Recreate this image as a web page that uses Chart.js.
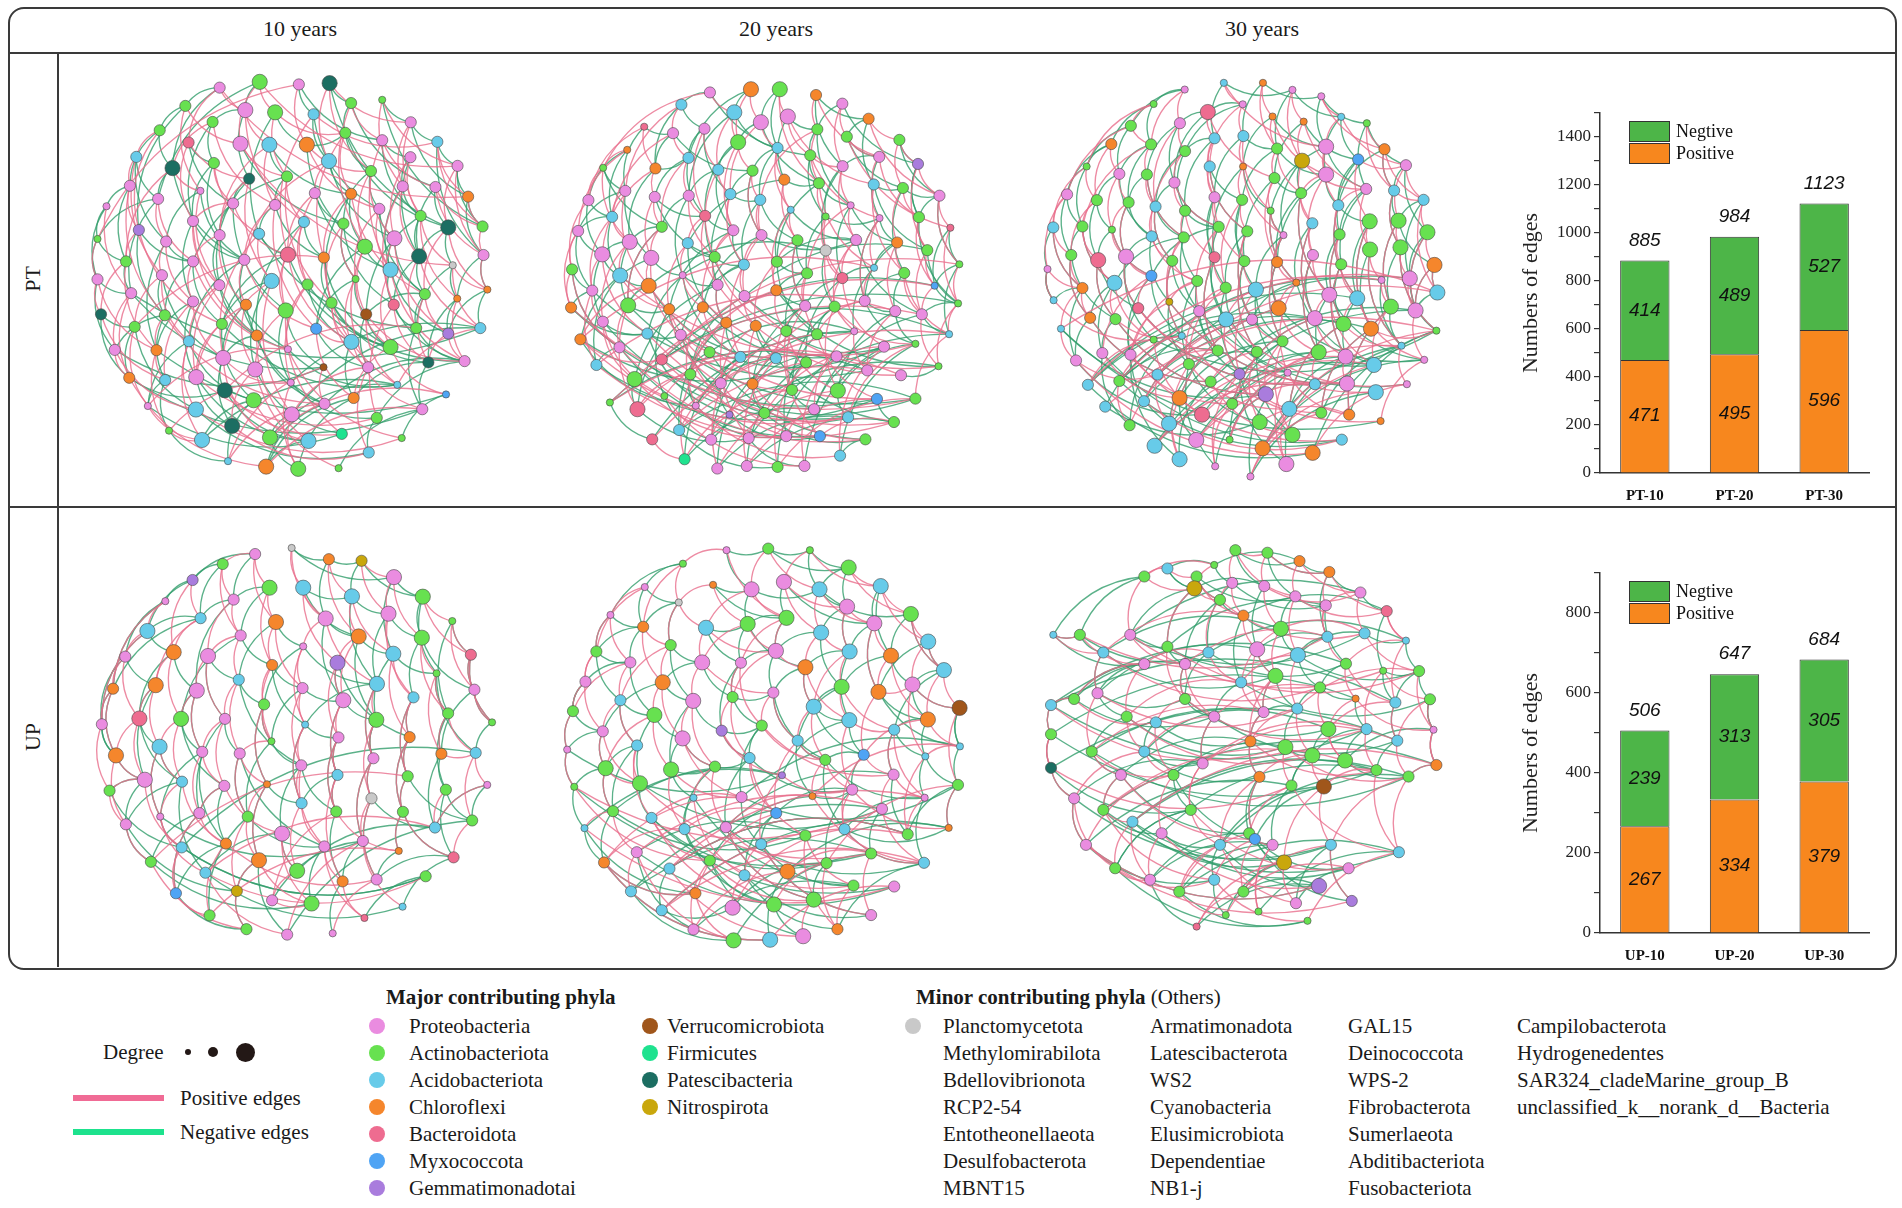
<!DOCTYPE html>
<html>
<head>
<meta charset="utf-8">
<script src="https://cdn.jsdelivr.net/npm/chart.js@4.4.1/dist/chart.umd.min.js"></script>
<style>
  body { margin: 0; background: #fff; width: 1902px; height: 1208px; position: relative; overflow: hidden;
         font-family: 'Liberation Serif', 'Times New Roman', serif; color: #1a1a1a; }
  .abs { position: absolute; }
  .hl { position: absolute; background: #3a3a3a; }
  .txt { position: absolute; white-space: nowrap; line-height: 26px; font-size: 21px; }
  .dot { position: absolute; border-radius: 50%; }
  canvas { position: absolute; }
</style>
</head>
<body>
<div class="abs" style="left:8px;top:7px;width:1885px;height:959px;border:2px solid #3a3a3a;border-radius:16px;"></div>
<div class="hl" style="left:9px;top:52px;width:1886px;height:2px;"></div>
<div class="hl" style="left:57px;top:53px;width:2px;height:914px;"></div>
<div class="hl" style="left:9px;top:506px;width:1886px;height:2px;"></div>

<div class="txt" style="left:300px;top:16px;font-size:22px;transform:translateX(-50%);">10 years</div>
<div class="txt" style="left:776px;top:16px;font-size:22px;transform:translateX(-50%);">20 years</div>
<div class="txt" style="left:1262px;top:16px;font-size:22px;transform:translateX(-50%);">30 years</div>
<div class="txt" style="left:33px;top:279px;font-size:22px;transform:translate(-50%,-50%) rotate(-90deg);">PT</div>
<div class="txt" style="left:33px;top:737px;font-size:22px;transform:translate(-50%,-50%) rotate(-90deg);">UP</div>

<canvas id="pt10" width="440" height="440" style="left:75px;top:60px;width:440px;height:440px;"></canvas>
<canvas id="pt20" width="440" height="440" style="left:555px;top:60px;width:440px;height:440px;"></canvas>
<canvas id="pt30" width="440" height="440" style="left:1025px;top:60px;width:440px;height:440px;"></canvas>
<canvas id="up10" width="440" height="440" style="left:80px;top:520px;width:440px;height:440px;"></canvas>
<canvas id="up20" width="440" height="440" style="left:545px;top:520px;width:440px;height:440px;"></canvas>
<canvas id="up30" width="440" height="440" style="left:1025px;top:520px;width:440px;height:440px;"></canvas>

<canvas id="barPT" width="370" height="410" style="left:1510px;top:95px;width:370px;height:410px;"></canvas>
<canvas id="barUP" width="370" height="410" style="left:1510px;top:555px;width:370px;height:410px;"></canvas>

<div id="legend"></div>

<script>
// ---- edge counts (bar charts) ----
const catsPT = ['PT-10', 'PT-20', 'PT-30'];
const posPT = [471, 495, 596];
const negPT = [414, 489, 527];
const totPT = [885, 984, 1123];

const catsUP = ['UP-10', 'UP-20', 'UP-30'];
const posUP = [267, 334, 379];
const negUP = [239, 313, 305];
const totUP = [506, 647, 684];

// ---- phyla ----
const majorCol1 = ['Proteobacteria', 'Actinobacteriota', 'Acidobacteriota', 'Chloroflexi', 'Bacteroidota', 'Myxococcota', 'Gemmatimonadotai'];
const majorCol2 = ['Verrucomicrobiota', 'Firmicutes', 'Patescibacteria', 'Nitrospirota'];
const minorCols = [
  ['Planctomycetota', 'Methylomirabilota', 'Bdellovibrionota', 'RCP2-54', 'Entotheonellaeota', 'Desulfobacterota', 'MBNT15'],
  ['Armatimonadota', 'Latescibacterota', 'WS2', 'Cyanobacteria', 'Elusimicrobiota', 'Dependentiae', 'NB1-j'],
  ['GAL15', 'Deinococcota', 'WPS-2', 'Fibrobacterota', 'Sumerlaeota', 'Abditibacteriota', 'Fusobacteriota'],
  ['Campilobacterota', 'Hydrogenedentes', 'SAR324_cladeMarine_group_B', 'unclassified_k__norank_d__Bacteria']
];

// ---- network nodes: [x, y, phylum index, degree class], coords on a 0..1320 grid per panel ----
const nodesPT10 = [[425,60,0,2],[550,42,1,3],[672,50,0,2],[768,46,9,3],[835,108,1,2],[932,98,1,1],[318,117,1,2],[505,130,0,3],[598,137,1,3],[718,143,2,2],
[403,167,1,2],[238,193,1,2],[328,231,4,2],[490,235,0,3],[580,238,2,3],[697,238,3,3],[817,201,1,2],[766,289,2,3],[1021,168,0,2],[932,224,0,2],
[1104,229,2,2],[1020,277,0,2],[1167,304,0,2],[165,276,2,2],[278,311,9,3],[407,295,1,2],[517,344,9,2],[635,337,1,2],[897,320,1,2],[996,368,0,2],
[1098,370,0,2],[1200,400,3,2],[145,366,0,2],[233,407,0,2],[365,382,0,1],[467,421,0,2],[598,426,0,2],[722,389,0,2],[835,391,3,2],[923,438,0,2],
[1052,460,1,2],[1138,496,9,3],[1245,493,1,2],[72,430,0,1],[44,532,1,1],[173,504,6,2],[258,540,0,2],[342,476,0,2],[425,520,0,2],[548,516,2,2],
[688,479,2,2],[811,484,1,2],[970,530,0,3],[878,556,1,3],[1047,586,9,3],[1248,582,0,2],[133,602,1,2],[342,602,0,2],[502,597,0,2],[638,581,4,3],
[750,590,3,2],[958,628,2,3],[1152,614,11,1],[44,658,0,2],[245,645,0,2],[149,701,0,2],[424,676,0,2],[587,663,2,3],[699,674,1,2],[849,657,1,1],
[1065,704,1,2],[1166,718,3,1],[1260,690,3,1],[55,767,9,2],[254,770,1,2],[342,727,0,2],[507,737,3,2],[631,755,1,3],[774,731,1,2],[968,737,4,2],
[882,767,7,2],[160,806,1,2],[432,797,1,2],[541,833,3,2],[726,812,5,2],[1038,810,1,2],[1138,827,6,2],[1238,810,2,2],[98,878,0,2],[228,879,3,2],
[329,851,2,2],[436,903,0,3],[638,876,0,1],[836,853,2,3],[958,869,1,3],[1076,917,9,2],[1189,913,0,2],[888,932,0,2],[749,932,7,1],[143,965,3,2],
[255,972,2,2],[352,963,0,3],[536,939,0,3],[647,980,0,1],[979,987,2,1],[1131,1017,5,1],[441,1004,9,3],[531,1035,1,3],[201,1053,0,1],[351,1064,2,3],
[752,1046,0,2],[843,1028,3,2],[1057,1063,0,2],[650,1079,0,3],[915,1090,1,2],[464,1115,9,3],[267,1130,1,1],[370,1159,2,3],[582,1151,1,3],[702,1162,2,3],
[806,1140,8,2],[993,1153,1,1],[890,1198,2,2],[451,1225,2,1],[570,1242,3,3],[670,1249,1,3],[796,1247,1,1]];

const nodesPT20 = [[457,75,0,2],[585,65,3,3],[675,65,1,3],[788,83,3,2],[870,110,0,2],[368,113,2,2],[533,137,2,3],[616,168,0,3],[700,150,0,3],[952,157,3,2],
[252,182,4,1],[342,202,0,2],[440,188,0,2],[792,190,1,2],[884,213,1,2],[1048,223,1,2],[199,254,3,1],[545,230,1,3],[668,248,2,2],[770,271,1,2],
[985,276,0,2],[124,310,1,1],[287,312,3,2],[390,279,2,2],[483,316,2,2],[590,319,1,2],[689,347,3,2],[871,305,0,2],[1106,298,6,2],[797,358,1,2],
[968,362,2,2],[1059,373,1,2],[78,411,0,2],[193,382,0,2],[285,401,0,2],[391,397,0,2],[521,392,2,2],[614,410,2,2],[1173,397,0,2],[896,427,0,1],
[152,463,2,2],[442,460,4,2],[709,441,2,1],[818,462,1,1],[986,467,0,1],[1109,464,1,2],[1207,497,4,1],[46,507,0,2],[307,494,1,2],[530,505,0,2],
[618,520,0,2],[730,536,1,2],[913,535,0,2],[1041,543,3,2],[207,541,0,3],[388,545,2,2],[818,568,11,2],[1135,567,1,2],[121,580,0,3],[274,591,0,3],
[472,588,1,2],[563,612,2,2],[666,603,1,2],[969,622,2,1],[1063,638,1,2],[1235,611,1,1],[27,627,1,2],[177,646,2,3],[372,645,0,1],[760,639,1,2],
[870,654,4,2],[1158,678,5,1],[90,693,0,2],[266,678,3,3],[481,675,0,2],[565,710,0,2],[664,692,3,2],[940,725,0,2],[1231,733,1,1],[24,746,3,2],
[202,739,1,3],[330,751,3,2],[435,745,3,2],[754,741,0,2],[846,743,1,2],[1035,757,0,2],[1118,767,0,2],[123,790,0,2],[508,793,3,2],[600,803,3,2],
[907,820,0,1],[53,845,3,2],[262,827,2,2],[366,831,0,2],[695,819,1,2],[791,829,1,2],[1203,829,2,1],[175,870,0,2],[456,885,1,2],[552,900,2,2],
[663,904,2,2],[757,917,1,2],[852,898,0,2],[1000,868,0,2],[1098,859,1,1],[103,925,2,2],[307,908,4,2],[948,942,0,2],[1053,957,0,2],[1170,929,1,1],
[222,969,1,3],[396,954,1,2],[491,982,0,2],[590,984,3,2],[713,1003,1,2],[856,1005,1,3],[978,1031,5,2],[1098,1030,1,2],[145,1042,1,1],[315,1022,1,1],
[231,1063,4,3],[413,1052,0,1],[518,1080,6,1],[627,1075,1,2],[782,1063,0,2],[888,1088,2,2],[1031,1103,1,2],[361,1128,2,2],[277,1157,4,2],[461,1158,0,2],
[578,1153,0,2],[695,1147,0,2],[800,1147,5,2],[942,1157,1,2],[378,1219,8,2],[480,1248,0,2],[572,1240,0,2],[668,1243,1,2],[752,1240,0,2],[863,1208,2,2]];

const nodesPT30 = [[594,45,2,1],[716,45,3,1],[808,67,0,1],[898,87,0,1],[472,66,0,1],[375,111,1,1],[653,112,0,1],[544,136,4,3],[746,150,3,1],[843,166,3,1],
[960,151,2,1],[1040,171,1,1],[304,179,1,2],[457,171,0,2],[565,218,2,2],[655,211,2,2],[243,236,3,2],[367,237,1,2],[473,258,1,2],[760,250,1,2],
[913,244,0,3],[1095,252,3,2],[838,288,10,3],[1013,284,5,2],[1162,302,0,2],[166,306,1,1],[268,329,0,2],[354,331,1,2],[440,356,0,2],[550,306,2,2],
[654,306,3,1],[752,342,1,2],[913,331,0,3],[1038,376,0,2],[1125,381,2,2],[105,393,0,2],[198,411,1,2],[297,418,1,2],[381,431,2,2],[473,444,1,2],
[565,402,0,2],[651,410,1,2],[740,444,1,1],[835,389,1,2],[951,427,2,2],[1217,410,2,2],[62,496,2,2],[153,493,1,2],[245,503,1,1],[369,524,2,2],
[469,527,1,2],[578,494,1,2],[667,508,1,2],[780,520,0,1],[870,483,2,2],[955,518,1,2],[1049,477,1,3],[1139,475,1,3],[1229,511,1,3],[44,626,0,1],
[118,582,1,2],[202,598,4,3],[289,587,0,3],[433,600,1,2],[565,589,4,2],[658,601,1,2],[760,604,3,2],[872,582,0,2],[960,611,1,2],[1050,565,1,3],
[1145,558,1,3],[1251,613,3,3],[153,685,3,2],[253,669,2,3],[368,647,5,2],[511,663,1,2],[600,684,1,2],[694,690,2,3],[820,668,3,1],[923,706,0,3],
[1010,717,2,3],[1086,660,0,1],[1174,655,0,3],[1260,699,2,3],[63,723,2,1],[177,778,3,2],[256,782,1,2],[327,748,4,2],[424,728,10,1],[517,757,0,2],
[601,783,2,3],[682,783,0,2],[765,748,3,3],[878,779,0,3],[967,797,1,3],[1053,812,3,3],[1115,743,1,3],[1192,755,0,3],[86,812,2,1],[375,846,1,1],
[463,834,2,1],[575,880,1,2],[697,884,1,2],[777,851,1,2],[890,885,1,3],[974,899,0,3],[1148,865,2,1],[1257,818,1,1],[133,911,0,2],[215,888,0,2],
[303,893,0,2],[485,922,1,2],[643,953,6,2],[793,949,0,1],[1062,925,2,3],[1219,909,0,1],[170,987,2,2],[268,975,1,2],[387,955,2,2],[553,977,1,2],
[725,1016,6,3],[878,985,2,2],[978,983,0,3],[1068,1010,2,3],[1165,985,0,1],[224,1055,2,2],[345,1038,2,2],[456,1028,3,3],[620,1046,1,2],[798,1062,2,3],
[898,1074,1,2],[985,1080,3,2],[526,1080,4,3],[1083,1100,3,1],[300,1113,1,2],[423,1108,2,3],[706,1103,1,3],[808,1143,1,3],[612,1158,1,1],[378,1177,2,3],
[508,1159,0,3],[715,1185,3,3],[871,1199,3,3],[962,1158,2,2],[456,1219,2,3],[567,1241,0,1],[789,1234,0,3],[677,1273,0,1]];

const nodesUP10 = [[520,80,0,2],[634,61,11,1],[750,96,3,2],[852,101,10,2],[419,111,1,2],[325,161,6,2],[565,185,1,3],[670,185,2,3],[953,152,0,3],[240,227,0,1],
[453,222,0,2],[822,212,2,3],[1043,213,1,3],[350,280,2,2],[585,292,3,3],[740,281,0,3],[936,266,0,3],[1135,289,1,1],[184,320,2,3],[475,334,0,2],
[843,337,3,3],[1040,341,1,3],[670,368,0,1],[115,400,0,2],[266,386,3,3],[373,398,0,3],[573,426,3,2],[777,419,6,3],[951,391,2,3],[1193,394,4,2],
[1086,452,1,1],[77,500,3,2],[210,489,3,3],[338,506,0,3],[469,472,2,2],[668,498,0,2],[900,485,2,3],[1204,503,0,2],[548,549,1,2],[795,536,0,3],
[1014,527,2,2],[1122,577,1,2],[42,611,0,2],[159,593,4,3],[289,594,1,3],[426,594,0,2],[676,612,2,1],[898,597,1,3],[1259,605,1,1],[571,664,1,1],
[780,652,0,2],[1002,651,3,2],[86,708,3,3],[222,681,2,3],[355,697,0,2],[472,702,0,2],[664,739,0,2],[889,717,0,2],[1101,703,3,2],[1208,700,2,2],
[176,784,0,3],[292,790,2,2],[424,803,0,2],[557,798,3,1],[777,769,2,2],[996,773,1,2],[1244,800,0,1],[66,818,1,2],[1115,815,1,2],[665,857,2,2],
[883,842,11,2],[224,899,0,1],[346,888,0,2],[497,899,1,2],[773,883,1,2],[981,884,1,2],[117,923,0,2],[604,952,0,3],[1081,933,2,2],[1197,911,1,2],
[291,995,2,2],[429,983,3,2],[736,992,0,2],[856,975,0,2],[195,1040,1,2],[532,1035,3,3],[968,1006,3,1],[1139,1026,4,2],[365,1074,2,2],[651,1068,1,3],
[793,1101,3,2],[899,1095,0,2],[1052,1085,1,2],[273,1138,5,2],[463,1131,10,2],[573,1160,0,2],[696,1170,1,3],[378,1207,1,2],[493,1250,1,2],[620,1267,0,2],
[861,1215,4,1],[980,1180,2,1],[762,1263,0,1]];

const nodesUP20 = [[540,68,0,1],[670,63,1,2],[800,68,1,1],[404,110,1,1],[921,122,1,3],[498,176,3,1],[285,183,0,1],[618,190,0,3],[719,167,0,3],[830,190,2,3],
[1021,180,2,3],[391,231,11,1],[178,270,0,1],[727,279,1,3],[916,244,0,3],[1115,267,1,3],[280,307,3,2],[476,310,2,3],[606,298,1,3],[835,325,2,3],
[1001,296,0,3],[1169,353,2,3],[134,384,1,2],[366,364,1,2],[694,382,0,3],[924,384,2,3],[1053,397,3,3],[240,418,0,2],[464,418,0,3],[585,419,0,2],
[786,433,3,3],[1218,442,2,3],[100,478,0,2],[341,480,3,3],[899,494,1,3],[1014,510,3,3],[1120,487,0,3],[209,536,2,2],[436,538,0,3],[559,526,1,2],
[686,512,0,2],[812,556,2,3],[61,570,1,2],[315,582,1,3],[923,598,2,3],[1168,596,3,3],[1267,560,7,3],[154,633,0,2],[403,655,0,3],[525,631,6,2],
[650,615,1,2],[1063,628,2,2],[762,662,2,2],[43,690,0,1],[261,677,2,2],[1268,680,2,1],[968,706,5,2],[1160,711,2,1],[163,748,1,3],[367,752,1,3],
[504,743,1,2],[612,716,2,2],[848,722,1,2],[713,770,6,1],[1061,768,0,2],[270,795,1,3],[65,806,1,1],[587,838,0,2],[808,835,3,1],[932,815,0,2],
[1158,840,0,1],[1262,800,1,2],[437,840,2,1],[186,882,1,2],[695,888,5,2],[1025,875,0,2],[306,903,2,2],[97,935,2,1],[409,938,2,2],[538,932,0,2],
[908,938,2,2],[1105,954,1,2],[1233,934,3,1],[786,958,1,2],[648,985,2,2],[260,1010,0,2],[991,1014,1,2],[158,1042,3,2],[488,1036,1,2],[852,1044,1,2],
[1156,1043,2,2],[362,1061,2,2],[596,1082,2,2],[730,1070,3,3],[936,1114,1,2],[1063,1117,0,2],[242,1132,2,2],[443,1138,3,2],[688,1173,1,3],[812,1158,1,3],
[338,1191,2,2],[559,1183,0,3],[991,1206,0,2],[886,1250,3,2],[437,1251,0,2],[562,1285,1,3],[676,1283,2,3],[779,1272,0,3]];

const nodesUP30 = [[630,68,1,2],[730,76,1,2],[830,102,3,2],[564,114,1,1],[418,125,2,2],[923,136,3,2],[509,150,1,2],[346,150,1,2],[620,170,0,2],[720,180,0,2],
[502,187,10,3],[1020,200,0,2],[817,212,0,2],[582,223,1,2],[912,240,0,2],[1102,258,4,2],[655,272,3,2],[62,332,2,1],[145,332,1,2],[302,332,0,2],
[1033,327,2,2],[917,338,2,2],[1162,350,2,1],[418,369,1,2],[772,313,1,3],[218,387,2,2],[546,387,2,2],[698,377,0,3],[825,395,2,3],[346,423,0,2],
[473,423,0,2],[975,422,1,2],[1091,444,1,1],[1203,445,1,2],[755,460,1,3],[648,480,2,2],[894,496,1,2],[200,514,0,2],[127,532,1,2],[473,532,1,2],
[1005,531,3,1],[1129,543,2,2],[1237,533,1,2],[55,551,2,2],[823,562,2,2],[718,573,0,2],[291,587,1,2],[564,587,0,2],[382,605,2,2],[920,626,1,3],
[1039,626,2,2],[1248,628,0,1],[55,642,1,2],[1135,662,2,2],[677,664,3,2],[786,682,1,3],[182,696,1,2],[346,696,2,2],[870,708,1,3],[972,724,1,3],
[528,733,0,2],[1257,738,3,2],[55,747,9,2],[1070,754,1,2],[273,769,0,2],[437,769,1,2],[1170,774,1,2],[705,775,3,2],[805,802,1,2],[906,805,7,3],
[127,842,0,2],[218,878,1,2],[491,878,1,2],[309,915,2,2],[400,951,0,2],[673,951,1,2],[691,969,5,2],[164,987,0,2],[582,987,2,2],[746,987,0,2],
[928,987,2,2],[1140,1010,2,2],[782,1042,10,3],[255,1060,1,2],[983,1060,0,2],[364,1096,0,2],[564,1096,2,2],[891,1115,6,3],[455,1133,1,2],[655,1133,1,2],
[993,1162,6,2],[819,1169,0,2],[702,1195,1,1],[600,1206,1,1],[855,1224,1,1],[509,1242,4,1]];

// ---- edges as flat index pairs (a,b, a,b, ...) ----
const posPT10 = [0,7,0,12,1,8,1,13,2,15,3,17,4,19,6,13,7,14,8,16,10,24,11,23,12,26,13,27,14,36,15,28,16,38,17,37,18,29,19,30,20,31,21,40,22,41,23,32,24,34,25,35,26,48,27,50,28,52,29,54,30,55,32,45,33,46,35,47,36,58,37,59,38,60,39,61,40,62,41,70,45,56,46,64,47,66,48,57,49,67,50,68,51,78,52,79,53,80,54,85,56,73,57,75,58,76,59,77,60,81,61,94,63,73,64,81,65,88,66,90,67,91,68,92,69,93,70,86,74,89,75,100,76,101,77,102,78,97,79,95,80,96,84,93,86,95,87,104,88,99,89,100,90,109,91,103,92,108,93,112,94,111,97,113,98,110,101,114,102,115,103,116,105,118,106,120,107,119,108,117,109,121,110,123,112,124,113,125,115,122,116,117,3,18,9,20,5,22,42,55,31,42,62,72,
0,31,1,22,2,44,3,28,4,53,5,29,6,34,7,50,8,27,9,59,10,36,11,45,12,47,13,62,14,48,15,39,16,60,17,58,18,40,19,61,20,42,21,52,22,55,23,64,24,56,25,49,26,67,27,78,28,53,29,79,30,42,32,74,33,57,34,66,35,59,36,84,37,68,38,70,39,69,40,71,41,72,43,65,44,63,45,82,46,75,47,83,48,76,49,91,50,77,51,69,52,86,53,97,54,87,55,72,56,89,57,92,58,84,59,93,60,104,61,96,62,87,63,89,64,90,65,99,66,101,67,113,68,103,69,94,70,95,71,96,73,100,74,110,75,91,76,102,77,120,78,93,79,114,80,104,81,108,82,101,83,119,84,111,85,106,86,96,88,109,89,116,90,117,91,118,92,121,94,105,97,122,98,123,99,124,102,126,103,125];
const negPT10 = [0,6,1,7,2,9,3,4,4,16,5,18,6,11,7,10,8,15,9,17,10,25,11,24,12,25,14,27,15,16,16,28,17,38,18,20,19,21,20,22,21,29,22,31,23,33,24,33,25,47,26,35,27,36,28,39,29,40,30,41,31,42,32,43,33,44,34,46,35,48,36,49,37,51,38,53,39,52,40,54,41,54,43,44,44,63,45,57,46,57,47,58,48,66,49,59,50,60,51,69,52,61,53,61,54,70,55,72,56,65,57,74,58,83,59,82,60,78,61,79,62,71,63,65,64,74,65,87,66,83,67,82,68,96,69,80,70,85,71,86,72,87,73,81,74,88,75,89,76,91,77,98,78,95,79,85,80,94,81,99,82,104,83,91,85,96,87,103,89,105,90,107,91,106,92,104,95,111,96,110,99,112,100,108,101,115,103,114,104,117,106,119,107,117,108,120,109,122,111,124,113,118,114,122,116,123,118,125,119,124,
0,24,1,33,2,19,3,41,4,30,5,42,6,45,7,26,8,49,9,39,10,47,11,32,12,35,13,51,14,38,15,53,16,41,17,52,18,31,19,40,20,55,21,54,22,42,23,46,24,58,25,48,26,66,27,57,28,51,29,61,30,54,31,55,32,56,33,65,34,58,35,77,36,60,37,61,38,78,39,70,40,80,41,62,43,63,44,56,45,74,46,89,47,75,48,92,49,85,50,83,51,79,52,70,53,84,54,79,55,71,57,82,58,90,59,94,60,94,61,86,62,85,63,88,64,91,65,98,66,92,67,102,68,93,69,84,70,80,71,95,72,86,73,99,74,100,75,101,76,110,77,103,78,94,79,96,80,97,81,109,82,107,83,110,84,97,85,112,87,113,88,98,90,108,91,115,93,111,95,112,96,114,99,106,100,116,101,119,102,120,104,118,105,121,107,123,110,124,111,125,112,126];

const posPT20 = [0,6,1,7,2,8,3,13,4,14,5,11,6,17,7,18,8,19,9,15,10,22,11,23,12,24,13,29,14,20,15,28,16,21,17,25,18,26,19,27,20,30,21,32,22,34,23,35,24,36,25,37,26,42,27,39,28,38,29,43,30,44,31,45,33,40,34,48,35,41,36,49,37,50,38,46,39,52,40,54,41,55,42,51,43,56,44,63,45,57,47,66,48,59,49,60,50,61,51,62,52,70,53,64,54,67,55,68,56,70,57,71,58,72,59,73,60,74,61,75,62,76,63,77,64,86,65,78,66,79,67,81,68,82,69,83,70,84,71,86,72,87,73,91,74,88,75,89,76,94,77,95,78,96,80,97,81,98,82,99,83,100,84,104,85,105,86,109,87,110,88,111,89,112,90,107,91,106,93,114,94,115,95,116,96,117,99,119,100,120,101,122,102,121,103,123,104,125,105,126,106,125,107,127,108,118,110,131,111,120,112,132,113,133,114,134,115,135,116,136,117,137,119,138,121,139,122,129,123,130,124,131,126,132,128,134,
0,21,1,17,2,29,3,20,4,27,5,33,6,24,7,36,8,30,9,38,10,32,11,40,12,41,13,37,14,46,15,31,16,47,17,49,18,42,19,44,20,45,21,54,22,58,23,48,24,60,25,50,26,51,27,52,28,57,29,63,30,64,31,53,32,66,33,73,34,59,35,60,36,61,37,62,38,65,39,69,40,72,41,74,42,76,43,70,44,77,45,71,46,78,47,79,48,80,49,82,50,75,51,83,52,84,53,85,54,87,55,81,56,90,57,86,58,92,59,93,60,94,61,99,62,89,63,91,64,96,65,106,66,97,67,104,68,102,69,95,70,103,71,110,72,105,73,116,74,108,75,109,76,111,77,113,78,109,79,117,80,120,81,112,82,121,83,114,84,115,85,107,86,118,87,119,88,130,89,123,90,124,91,125,92,126,93,131,94,132,95,127,96,128,97,133,98,134,99,135,100,136,101,137,102,138,103,139];
const negPT20 = [0,5,1,6,2,7,3,9,4,13,5,12,6,18,7,17,8,13,9,14,10,11,11,22,12,23,13,19,14,20,15,28,16,32,17,24,18,25,19,29,20,27,21,33,22,23,23,34,24,35,25,36,26,29,27,43,28,45,29,39,30,31,31,38,32,40,33,47,34,41,35,48,36,37,37,51,38,45,39,53,40,47,41,49,42,52,43,44,44,53,45,57,46,65,47,58,48,54,49,61,50,52,51,69,52,62,53,63,54,58,55,60,56,73,57,75,58,67,59,68,60,61,61,74,62,69,63,70,64,77,65,71,66,72,67,73,68,74,69,76,70,83,71,78,72,79,73,80,74,88,75,90,76,84,77,85,78,86,79,92,80,81,81,93,82,102,83,94,84,95,85,104,86,96,87,92,88,99,89,100,90,98,91,101,92,93,93,103,94,103,95,113,96,106,97,105,98,111,99,112,100,121,101,114,102,113,103,124,104,115,105,116,106,117,107,118,108,109,109,129,110,120,111,121,112,122,113,123,114,124,115,125,116,126,117,127,118,128,119,129,120,130,121,131,122,132,123,133,124,134,125,135,126,136,127,137,130,138,133,139,
0,19,1,23,2,18,3,27,4,28,5,22,6,35,7,29,8,26,9,30,10,33,11,25,12,36,13,39,14,31,15,38,16,40,17,41,18,37,19,43,20,44,21,48,22,54,23,41,24,49,25,50,26,55,27,56,28,45,29,62,30,57,31,64,32,58,33,59,34,60,35,68,36,74,37,61,38,65,39,70,40,67,41,75,42,62,43,69,44,77,45,78,46,71,47,72,48,80,49,81,50,82,51,83,52,86,53,77,54,80,55,88,56,84,57,78,58,87,59,91,60,92,61,93,62,95,63,90,64,85,65,96,66,97,67,105,68,99,69,94,70,101,71,106,72,107,73,100,74,110,75,111,76,109,77,104,78,118,79,116,80,117,81,119,82,120,83,113,84,114,85,115,86,124,87,125,88,127,89,126,90,128,91,121,92,122,93,123,94,129,95,131,96,130,97,132,98,133,99,134,100,135,101,136,102,137,103,138,104,139];

const posPT30 = [0,6,1,8,2,9,3,10,4,13,5,12,6,15,7,14,8,19,9,22,10,20,11,21,12,17,13,18,14,29,15,30,16,26,17,27,18,28,19,31,20,32,21,34,22,33,23,24,24,45,25,36,26,37,27,38,28,39,29,40,30,41,31,42,32,43,33,44,34,45,35,46,36,47,37,48,38,49,39,50,40,51,41,52,42,53,43,54,44,55,45,58,46,60,47,61,48,62,49,63,50,63,51,64,52,65,53,66,54,67,55,68,56,69,57,70,58,71,59,72,60,72,61,73,62,74,63,75,64,76,65,77,66,78,67,79,68,80,69,81,70,82,71,83,72,85,73,86,74,87,75,88,76,89,77,90,78,92,79,93,80,94,81,96,82,97,83,98,84,99,86,100,87,101,88,110,89,111,90,112,91,103,92,104,93,105,94,106,95,107,96,114,97,115,98,108,99,116,100,117,101,118,102,119,103,120,104,121,105,122,106,124,107,125,108,118,109,127,110,128,111,129,112,130,113,131,114,132,115,133,117,134,118,135,119,137,120,138,121,139,122,140,123,141,124,142,126,143,127,144,128,145,129,146,130,147,131,136,
0,20,1,19,2,22,3,21,4,17,5,25,6,29,7,31,8,32,9,33,10,24,11,34,12,35,13,38,14,40,15,42,16,36,17,47,18,49,19,43,20,44,21,45,22,54,23,56,24,57,25,46,26,48,27,50,28,51,29,52,30,53,31,66,32,67,33,69,34,70,35,59,36,60,37,62,38,63,39,64,40,65,41,76,42,78,43,79,44,80,45,83,46,72,47,73,48,74,49,75,50,88,51,89,52,91,53,92,54,93,55,94,56,95,57,96,58,97,59,84,60,85,61,86,62,87,63,100,64,101,65,102,66,103,67,104,68,105,69,106,70,107,71,97,72,98,73,99,74,109,75,110,76,111,77,112,78,113,79,114,80,115,81,116,82,117,83,118,85,119,86,120,87,121,88,122,89,123,90,124,91,126,92,127,93,128,94,129,95,130,96,131,99,132,100,133,101,134,102,136,103,137,104,138,105,139,106,140,107,141,108,142,110,143,111,144,112,145,113,146,114,147];
const negPT30 = [0,2,1,3,2,10,3,11,4,5,5,16,6,7,7,13,8,20,9,23,10,23,11,24,12,25,13,28,14,18,15,19,16,25,17,26,18,39,19,32,20,33,21,34,22,43,23,44,24,34,25,35,26,36,27,37,28,38,29,41,30,42,31,43,32,44,33,55,34,57,35,47,36,48,37,49,38,50,39,51,40,64,41,65,42,53,43,66,44,56,45,57,46,59,47,60,48,61,49,62,50,73,51,74,52,76,53,77,54,78,55,79,56,80,57,71,58,82,59,84,60,85,61,86,62,87,63,89,64,90,65,91,66,92,67,93,68,94,69,95,70,96,71,97,72,84,73,85,74,100,75,101,76,102,77,103,78,91,79,104,80,105,81,106,82,107,83,97,85,108,86,109,87,110,88,111,89,112,90,113,91,114,92,115,93,116,94,117,95,118,96,106,97,119,98,120,99,107,100,116,101,117,102,126,103,127,104,128,105,129,106,130,107,131,108,132,109,134,110,135,111,136,112,137,113,138,114,139,115,141,116,142,117,143,119,144,120,145,121,146,123,147,125,136,127,140,
0,14,1,15,2,19,3,20,4,12,5,17,6,18,7,28,8,30,9,31,10,32,11,33,12,26,13,27,14,39,15,40,16,35,17,37,18,38,19,41,20,42,21,44,22,53,23,55,24,58,25,47,26,49,27,50,28,51,29,52,30,64,31,65,32,66,33,68,34,70,35,60,36,61,37,62,38,63,39,75,40,76,41,77,42,78,43,79,44,80,45,82,46,72,47,73,48,74,49,88,50,89,51,90,52,91,53,92,54,93,55,94,56,95,57,96,58,97,59,84,60,86,61,87,62,99,63,100,64,101,65,102,66,103,67,104,68,105,69,106,70,107,71,83,72,108,73,109,74,110,75,111,76,112,77,113,78,114,79,115,80,116,81,117,82,118,85,119,86,120,87,121,88,122,89,124,90,125,91,126,92,127,93,128,94,129,95,130,96,131,97,132,98,133,100,134,101,135,102,137,103,138,104,139,105,140,106,141,107,142,109,143,110,144,111,145,112,146,113,147];

const posUP10 = [0,4,0,6,1,7,2,11,3,8,4,10,5,13,6,14,7,15,8,16,9,18,10,19,11,20,12,17,13,24,14,26,15,22,16,28,17,29,18,23,19,25,20,27,21,30,22,35,23,31,24,32,25,33,26,38,27,39,28,40,29,37,30,41,31,42,32,43,33,44,34,45,35,46,36,47,37,48,38,49,39,50,40,51,41,58,43,52,44,53,45,54,46,56,47,57,49,55,50,64,51,65,52,60,53,61,54,62,55,63,56,69,57,70,58,59,59,66,60,67,61,71,62,72,63,73,64,74,65,75,68,78,69,82,70,83,71,80,72,81,73,85,74,86,75,87,76,84,77,89,78,88,80,93,81,91,82,90,83,99,85,94,86,97,88,92,89,95,90,100,91,102,93,97,94,98,95,96,
0,14,1,15,2,20,3,16,4,19,5,24,6,26,7,27,8,21,9,31,10,25,11,28,12,29,13,32,14,35,15,36,16,40,17,37,18,42,19,34,20,39,21,41,22,46,23,43,24,44,25,45,26,49,27,50,28,51,29,48,30,58,31,52,32,53,33,54,34,55,35,56,36,57,38,63,39,64,40,65,41,59,42,67,43,60,44,61,45,62,46,69,47,70,50,74,51,75,52,76,53,71,54,72,55,73,56,82,57,83,59,79,60,80,61,81,62,77,63,85,64,90,65,84,66,78,67,76,69,89,70,91,71,88,72,93,73,94,74,95,75,86,77,96,79,87,81,97,82,100,83,101,84,98,85,96,88,99];
const negUP10 = [0,5,1,2,2,3,3,12,4,5,5,9,6,10,7,11,8,12,9,23,10,13,11,16,12,21,13,18,14,22,15,20,16,21,17,29,18,24,19,26,20,28,21,40,22,36,23,32,24,33,25,34,26,35,27,39,28,30,29,37,30,41,31,42,32,43,33,44,34,38,35,39,36,46,37,48,38,49,39,47,40,51,41,58,42,52,43,53,44,54,45,55,46,50,47,57,48,59,49,56,50,64,51,65,52,60,53,61,54,71,55,73,56,74,57,70,58,68,60,67,61,76,62,72,63,69,64,74,65,75,66,79,67,80,68,79,70,78,71,83,72,84,73,82,74,90,75,87,76,94,77,88,78,89,80,92,81,93,83,95,84,96,85,99,86,91,87,101,90,102,92,100,93,98,94,98,
0,10,1,8,2,15,3,11,4,13,5,18,6,19,7,20,8,28,9,31,10,33,11,36,12,30,13,31,14,34,15,39,16,36,17,41,18,42,19,44,20,47,21,37,22,38,23,42,24,43,25,45,26,46,27,51,28,47,29,48,30,59,31,52,32,60,33,54,34,56,35,49,36,57,37,58,38,63,39,64,40,65,41,68,42,52,43,61,44,62,45,72,46,69,47,57,49,73,50,74,51,75,53,71,54,81,55,82,56,77,57,83,58,78,59,80,60,76,61,88,62,81,63,85,64,69,65,79,66,78,68,87,70,91,71,80,72,93,73,97,75,86,76,84,77,89,79,99,80,92,82,96,83,90,85,94,87,91,88,101];

const posUP20 = [0,3,1,7,2,8,3,11,4,10,5,11,6,12,7,13,8,14,9,19,10,15,11,17,12,22,13,24,14,20,15,21,16,23,17,28,18,24,19,25,20,26,21,31,22,32,23,33,24,30,25,34,26,35,27,37,28,38,29,39,30,41,31,45,32,42,33,43,34,44,35,36,36,46,37,47,38,48,39,49,40,50,41,52,43,59,44,51,45,56,47,58,48,60,49,61,50,62,51,64,52,62,54,65,55,57,56,64,58,65,59,67,60,72,61,74,62,68,63,69,64,70,66,75,67,76,68,79,69,80,70,81,71,82,73,77,74,78,75,85,76,88,78,87,79,89,80,90,81,91,83,94,84,92,85,96,86,93,87,97,88,99,89,98,90,100,92,101,93,104,94,103,95,106,97,105,99,107,84,102,
0,13,1,9,2,10,3,16,4,15,5,18,6,22,7,17,8,19,9,20,10,21,11,23,12,27,13,29,14,25,15,31,16,33,17,24,18,28,19,30,20,35,21,36,22,32,23,37,24,39,25,41,26,45,27,42,28,40,29,50,30,44,31,46,32,47,33,48,34,51,35,56,36,57,37,54,38,60,39,61,40,52,41,62,42,53,43,58,44,69,45,55,46,71,47,65,48,67,49,63,50,64,51,70,52,74,53,66,54,76,55,68,56,80,57,81,58,73,59,78,60,79,61,83,62,69,63,84,64,75,65,86,66,88,67,87,68,90,69,82,70,91,71,89,72,92,73,85,74,97,75,90,76,98,77,95,78,94,79,99,80,101,81,100,83,103,85,105,86,102,87,106,88,104,89,103,91,107];
const negUP20 = [0,1,1,2,2,4,3,6,4,9,5,7,6,11,7,9,8,13,9,14,10,20,11,16,12,16,13,18,14,19,15,26,16,22,17,18,18,29,19,24,20,25,21,35,22,27,23,28,24,29,25,30,26,34,27,32,28,33,29,39,30,40,31,36,32,42,33,38,34,41,35,45,36,46,37,43,38,49,39,40,40,52,41,44,42,47,43,48,44,56,45,51,46,55,47,53,48,59,49,50,50,61,51,57,52,62,53,63,54,58,55,67,56,62,57,71,58,66,59,60,60,61,61,69,62,70,63,73,64,79,65,75,66,77,67,71,68,69,69,74,70,80,71,81,72,78,73,83,74,84,75,86,76,89,77,87,78,88,79,90,80,82,81,91,82,93,83,85,84,94,85,95,86,96,87,97,88,98,89,99,90,103,91,100,92,102,93,106,94,104,96,105,98,107,100,101,
0,7,1,4,2,9,3,12,4,14,5,13,6,16,7,18,8,20,9,15,10,26,11,23,12,22,13,24,14,25,15,31,16,27,17,29,18,30,19,34,20,35,21,31,22,37,23,38,24,40,25,44,26,36,27,43,28,39,29,49,30,41,31,51,32,42,33,47,34,52,35,55,36,45,37,54,38,59,39,50,40,62,41,56,42,53,43,65,44,63,45,57,46,55,47,58,48,60,49,61,50,67,51,64,52,68,53,66,54,73,55,71,56,69,57,70,58,73,59,72,60,78,61,79,62,80,63,77,64,81,65,76,66,86,67,84,68,88,69,89,70,90,71,82,72,94,73,87,74,92,75,96,76,95,77,97,78,98,79,99,80,90,81,91,82,100,84,102,85,104,86,105,87,106,88,107,89,101,92,103];

const posUP30 = [0,1,0,8,1,9,2,12,3,7,4,6,5,15,6,13,7,10,8,16,9,11,10,13,11,14,12,15,13,20,14,21,15,22,16,25,17,18,18,21,19,32,20,24,21,30,22,31,23,33,24,35,25,36,26,29,27,34,28,35,29,38,30,39,31,41,32,42,33,44,34,45,35,46,36,47,37,44,38,48,39,50,40,51,41,49,42,53,43,55,44,54,45,56,46,58,47,57,49,59,50,60,51,61,52,62,53,60,54,63,55,66,56,65,57,70,58,67,59,71,60,72,61,73,62,68,63,69,64,76,65,77,66,80,67,78,68,81,69,82,70,83,71,86,72,84,73,85,74,87,75,88,76,89,77,90,78,91,79,92,80,93,81,94,82,95,83,86,84,89,
0,12,1,5,2,11,3,10,4,7,5,14,6,16,7,19,8,13,9,24,10,23,11,20,12,28,13,26,14,21,15,22,16,27,17,25,18,29,19,30,20,33,21,31,22,41,23,39,24,34,25,37,26,35,27,45,28,44,29,46,30,47,31,40,32,50,33,51,34,54,35,45,36,49,37,56,38,43,39,48,40,49,41,53,42,51,43,52,44,58,45,54,46,57,47,60,48,65,49,59,50,63,51,61,52,62,53,66,54,67,55,68,56,64,57,65,58,69,59,63,60,72,61,66,62,70,63,81,64,71,65,74,66,81,67,76,68,75,69,80,70,77,71,73,72,78,73,83,74,85,75,79,76,86,77,87,78,88,79,92,80,90,82,91,83,85,86,94,88,93,89,95];
const negUP30 = [0,2,1,5,2,3,3,4,4,10,5,11,6,12,7,17,8,14,9,10,10,19,11,19,12,14,13,16,14,23,15,16,16,24,17,29,18,26,19,20,20,28,21,27,22,26,23,28,24,25,25,34,26,31,27,37,28,33,29,37,30,38,31,43,32,33,33,41,34,44,35,42,36,40,37,39,38,47,39,49,40,52,41,43,42,51,43,50,44,45,45,57,46,55,47,53,48,54,49,56,50,58,51,59,52,63,53,62,54,64,55,65,56,66,57,67,58,68,59,69,60,70,61,71,62,72,63,74,64,75,65,79,66,73,67,76,68,77,69,78,70,80,71,81,72,83,73,82,74,84,75,85,76,90,77,86,78,87,79,88,80,91,81,92,82,93,83,94,85,95,87,89,
0,9,1,12,2,5,3,8,4,10,5,21,6,13,7,18,8,26,9,27,10,23,11,15,12,24,13,30,14,31,15,32,16,35,17,18,18,25,19,23,20,22,21,28,22,33,23,30,24,28,25,37,26,39,27,34,28,36,29,38,30,39,31,36,32,41,33,42,34,45,35,47,36,44,37,46,38,43,39,47,40,50,41,53,42,51,43,52,44,55,45,54,46,56,47,60,48,57,49,58,50,59,51,61,52,62,53,63,54,67,55,58,56,64,57,60,58,68,59,66,60,65,61,66,62,70,63,73,64,71,65,72,66,78,67,75,68,79,69,76,70,77,71,74,72,83,73,80,74,78,75,84,76,82,77,87,78,86,79,85,80,90,81,88,82,89,84,91,86,93,87,95,88,94];

// ---- styles ----
const PHYLUM_COLORS = ['#ea8ce0', '#67e150', '#67cbe9', '#f5862c', '#ee6c90', '#4fa4f4', '#a97cdd', '#a0561b', '#1fe28f', '#1c6e62', '#c9a70c', '#c9c9c9'];
const NODE_R = [0, 3.6, 5.6, 7.6];
const EDGE_POS = 'rgba(232,110,140,0.8)';
const EDGE_NEG = 'rgba(50,158,108,0.8)';
const SERIF = "'Liberation Serif', 'Times New Roman', serif";

Chart.defaults.font.family = SERIF;
Chart.defaults.color = '#1a1a1a';

function edgePlugin(nodes, pos, neg) {
  return {
    id: 'edges',
    beforeDatasetsDraw(chart) {
      const ctx = chart.ctx, xs = chart.scales.x, ys = chart.scales.y;
      ctx.save();
      ctx.lineWidth = 1.35;
      const draw = (pairs, color) => {
        ctx.strokeStyle = color;
        for (let k = 0; k < pairs.length; k += 2) {
          const a = nodes[pairs[k]], b = nodes[pairs[k + 1]];
          if (!a || !b) continue;
          const x1 = xs.getPixelForValue(a[0]), y1 = ys.getPixelForValue(a[1]);
          const x2 = xs.getPixelForValue(b[0]), y2 = ys.getPixelForValue(b[1]);
          const s = 0.26;
          const cx = (x1 + x2) / 2 - (y2 - y1) * s, cy = (y1 + y2) / 2 + (x2 - x1) * s;
          ctx.beginPath();
          ctx.moveTo(x1, y1);
          ctx.quadraticCurveTo(cx, cy, x2, y2);
          ctx.stroke();
        }
      };
      draw(neg, EDGE_NEG);
      draw(pos, EDGE_POS);
      ctx.restore();
    }
  };
}

function network(id, nodes, pos, neg) {
  new Chart(document.getElementById(id), {
    type: 'scatter',
    data: {
      datasets: [{
        data: nodes.map(n => ({ x: n[0], y: n[1] })),
        pointRadius: nodes.map(n => NODE_R[n[3]]),
        pointBackgroundColor: nodes.map(n => PHYLUM_COLORS[n[2]]),
        pointBorderColor: 'rgba(70,70,70,0.75)',
        pointBorderWidth: 0.8,
        clip: false
      }]
    },
    options: {
      responsive: false,
      animation: false,
      events: [],
      layout: { padding: 0 },
      plugins: { legend: { display: false }, tooltip: { enabled: false } },
      scales: {
        x: { display: false, min: 0, max: 1320 },
        y: { display: false, min: 0, max: 1320, reverse: true }
      }
    },
    plugins: [edgePlugin(nodes, pos, neg)]
  });
}

network('pt10', nodesPT10, posPT10, negPT10);
network('pt20', nodesPT20, posPT20, negPT20);
network('pt30', nodesPT30, posPT30, negPT30);
network('up10', nodesUP10, posUP10, negUP10);
network('up20', nodesUP20, posUP20, negUP20);
network('up30', nodesUP30, posUP30, negUP30);

// ---- stacked bars ----
const ORANGE = '#f7871e';
const GREEN = '#4db548';

const barLabels = {
  id: 'barLabels',
  afterDatasetsDraw(chart, args, opts) {
    const ctx = chart.ctx;
    ctx.save();
    ctx.font = "italic 19px 'Liberation Sans', Arial, sans-serif";
    ctx.fillStyle = '#111';
    ctx.textAlign = 'center';
    ctx.textBaseline = 'middle';
    chart.data.datasets.forEach((ds, i) => {
      chart.getDatasetMeta(i).data.forEach((el, j) => {
        ctx.fillText(String(ds.data[j]), el.x, (el.y + el.base) / 2);
      });
    });
    const top = chart.getDatasetMeta(chart.data.datasets.length - 1).data;
    top.forEach((el, j) => ctx.fillText(String(opts.totals[j]), el.x, el.y - 20));
    // legend inside the plot
    const a = chart.chartArea;
    const items = [[chart.data.datasets[1].label, chart.data.datasets[1].backgroundColor, 8],
                   [chart.data.datasets[0].label, chart.data.datasets[0].backgroundColor, 30]];
    ctx.font = '18px ' + SERIF;
    ctx.textAlign = 'left';
    items.forEach(([lab, col, dy]) => {
      ctx.fillStyle = col;
      ctx.fillRect(a.left + 29, a.top + dy, 41, 20);
      ctx.strokeStyle = '#333';
      ctx.lineWidth = 1;
      ctx.strokeRect(a.left + 29.5, a.top + dy + 0.5, 40, 20);
      ctx.fillStyle = '#111';
      ctx.fillText(lab, a.left + 76, a.top + dy + 11);
    });
    ctx.restore();
  }
};

function barChart(id, cats, pos, neg, tot, yMax) {
  new Chart(document.getElementById(id), {
    type: 'bar',
    data: {
      labels: cats,
      datasets: [
        { label: 'Positive', data: pos, backgroundColor: ORANGE, borderColor: '#333', borderWidth: 1 },
        { label: 'Negtive', data: neg, backgroundColor: GREEN, borderColor: '#333', borderWidth: 1 }
      ]
    },
    options: {
      responsive: false,
      animation: false,
      events: [],
      barPercentage: 0.55,
      categoryPercentage: 1,
      layout: { padding: { top: 18, right: 11, left: 0, bottom: 0 } },
      plugins: { legend: { display: false }, tooltip: { enabled: false }, barLabels: { totals: tot } },
      scales: {
        x: {
          stacked: true,
          grid: { display: false },
          border: { display: true, color: '#333', width: 1.5 },
          ticks: { font: { size: 15, weight: 'bold' }, color: '#111', padding: 6 },
          afterFit(s) { s.height = 32; }
        },
        y: {
          stacked: true,
          min: 0,
          max: yMax,
          grid: { drawOnChartArea: false, drawTicks: true, tickLength: 6, color: '#333', lineWidth: 1.2 },
          border: { display: true, color: '#333', width: 1.5 },
          ticks: { stepSize: 100, autoSkip: false, font: { size: 17 }, color: '#222', padding: 3,
                   callback: v => (v % 200 === 0 ? v : '') },
          title: { display: true, text: 'Numbers of edges', font: { size: 22 }, color: '#222', padding: { top: 8, bottom: 0 } },
          afterFit(s) { s.width = 90; }
        }
      }
    },
    plugins: [barLabels]
  });
}

barChart('barPT', catsPT, posPT, negPT, totPT, 1500);
barChart('barUP', catsUP, posUP, negUP, totUP, 900);

// ---- bottom legend ----
const leg = document.getElementById('legend');
function addText(x, y, html, extra) {
  const d = document.createElement('div');
  d.className = 'txt';
  d.style.left = x + 'px';
  d.style.top = (y - 13) + 'px';
  if (extra) d.style.cssText += extra;
  d.innerHTML = html;
  leg.appendChild(d);
}
function addDot(x, y, size, color) {
  const d = document.createElement('div');
  d.className = 'dot';
  d.style.left = (x - size / 2) + 'px';
  d.style.top = (y - size / 2) + 'px';
  d.style.width = size + 'px';
  d.style.height = size + 'px';
  d.style.background = color;
  leg.appendChild(d);
}
const ROWS = [1026, 1053, 1080, 1107, 1134, 1161, 1188];

addText(103, 1052, 'Degree');
addDot(188, 1052, 6, '#231816');
addDot(213, 1052, 10, '#231816');
addDot(245, 1052, 19, '#231816');
const ln = (y, c) => { const d = document.createElement('div'); d.className = 'hl';
  d.style.cssText += `left:73px;top:${y - 3}px;width:91px;height:6px;background:${c};`; leg.appendChild(d); };
ln(1098, '#f06b95');
ln(1132, '#1de28d');
addText(180, 1098, 'Positive edges');
addText(180, 1132, 'Negative edges');

addText(386, 997, 'Major contributing phyla', 'font-weight:bold;');
majorCol1.forEach((n, i) => { addDot(377, ROWS[i], 16, PHYLUM_COLORS[i]); addText(409, ROWS[i], n); });
majorCol2.forEach((n, i) => { addDot(650, ROWS[i], 16, PHYLUM_COLORS[7 + i]); addText(667, ROWS[i], n); });

addText(916, 997, '<b>Minor contributing phyla</b> (Others)');
addDot(913, ROWS[0], 16, PHYLUM_COLORS[11]);
const minorX = [943, 1150, 1348, 1517];
minorCols.forEach((col, c) => col.forEach((n, i) => addText(minorX[c], ROWS[i], n)));
</script>
</body>
</html>
